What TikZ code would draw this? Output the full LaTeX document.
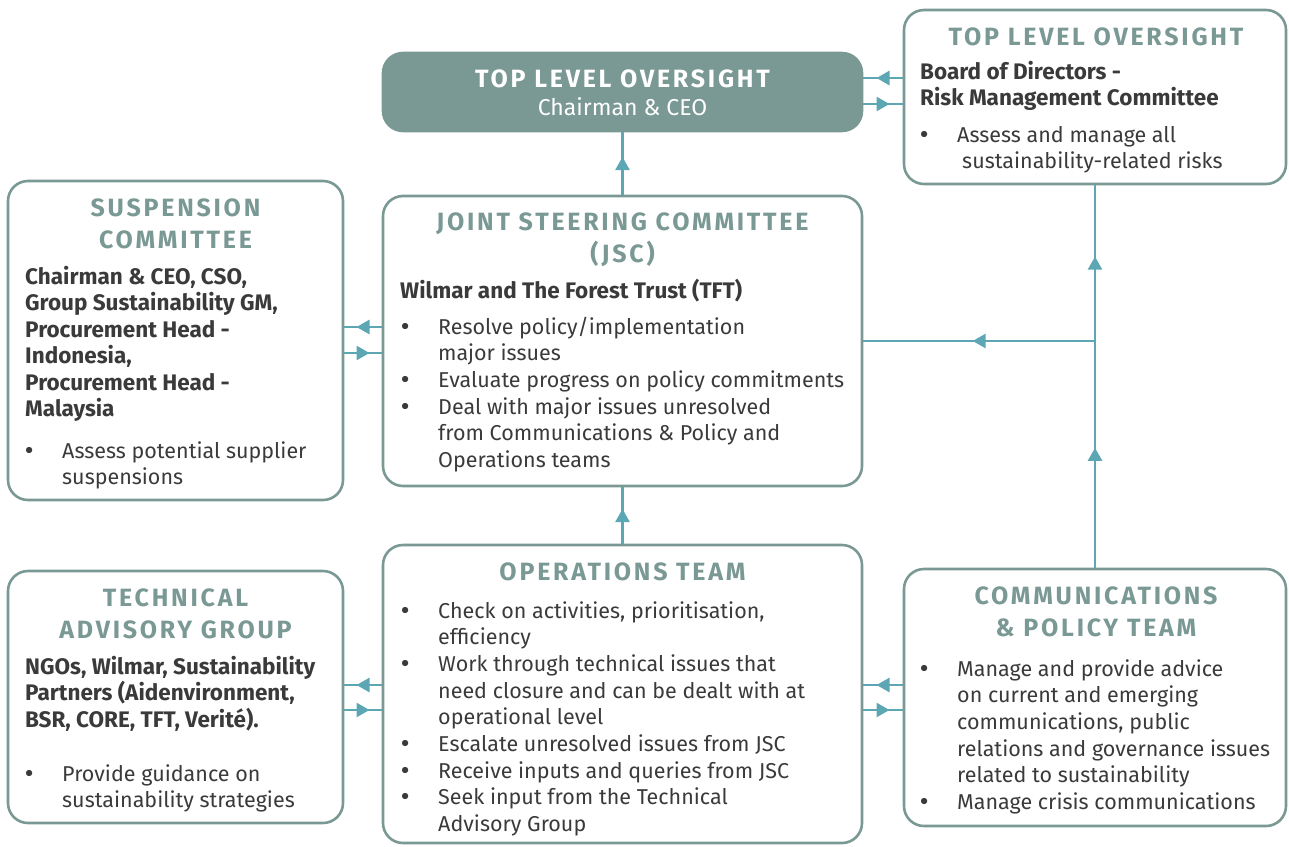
\documentclass[tikz,border=0pt]{standalone}
\usepackage{fontspec}
\setmainfont{Fira Sans}
\newfontfamily\headfont[LetterSpace=11.0]{Fira Sans}
\newfontfamily\dotfont{DejaVu Sans}
\usetikzlibrary{arrows.meta,decorations.markings}
\definecolor{boxc}{RGB}{122,153,148}
\definecolor{arrc}{RGB}{93,166,180}
\definecolor{txtc}{RGB}{58,58,58}
\newcommand\bodyfs{\fontsize{21.5}{26.7}\selectfont}
\newcommand\boldfs{\fontsize{22.5}{26.5}\selectfont\bfseries}
\newcommand\headfs{\fontsize{25}{31.5}\selectfont}
\newcommand\bul{\leavevmode\llap{\makebox[12pt]{\dotfont\textbullet}\hspace{27pt}}}
\tikzset{
  box/.style={draw=boxc, line width=2.6pt, rounded corners=20pt, inner sep=0pt},
  conn/.style={draw=arrc, line width=2.6pt, postaction={decorate},
    decoration={markings, mark=at position 0.5 with {\arrow[xshift=6.5pt]{Triangle[length=13pt,width=14pt]}}}},
  head/.style={inner sep=0pt, text=boxc, font=\headfont\bfseries\headfs, align=center},
  txt/.style={inner sep=0pt, text=txtc, anchor=base west},
}
\begin{document}
\begin{tikzpicture}[x=1pt,y=-1pt]
\useasboundingbox (0,0) rectangle (1289,846);
% boxes
\node[box, fill=boxc, minimum width=479pt, minimum height=78pt] (top) at (622.5,92) {};
\node[box, minimum width=382pt, minimum height=174pt] (rtop) at (1095,97) {};
\node[box, minimum width=335pt, minimum height=319pt] (susp) at (175.5,340.5) {};
\node[box, minimum width=479pt, minimum height=290pt] (jsc) at (622.5,341) {};
\node[box, minimum width=335pt, minimum height=252pt] (tag) at (175.5,697) {};
\node[box, minimum width=479pt, minimum height=298pt] (ops) at (622.5,694) {};
\node[box, minimum width=382pt, minimum height=257pt] (comms) at (1095,697.5) {};
% connectors
\draw[conn] (jsc.north) -- (top.south);
\draw[conn] (ops.north) -- (jsc.south);
\draw[conn] (rtop.west |- 0,78) -- (top.east |- 0,78);
\draw[conn] (top.east |- 0,104) -- (rtop.west |- 0,104);
\draw[conn] (jsc.west |- 0,327) -- (susp.east |- 0,327);
\draw[conn] (susp.east |- 0,353) -- (jsc.west |- 0,353);
\draw[conn] (ops.west |- 0,685) -- (tag.east |- 0,685);
\draw[conn] (tag.east |- 0,710) -- (ops.west |- 0,710);
\draw[conn] (comms.west |- 0,685) -- (ops.east |- 0,685);
\draw[conn] (ops.east |- 0,710) -- (comms.west |- 0,710);
\coordinate (junc) at (comms.north |- jsc.east);
\draw[conn] (comms.north) -- (junc);
\draw[conn] (junc) -- (rtop.south);
\draw[conn] (junc) -- (jsc.east);
% top centre
\node[head, text=white, anchor=base] (toph) at (622.5,87) {TOP LEVEL OVERSIGHT};
\node[inner sep=0pt, text=white, anchor=base, font=\fontsize{23}{24}\selectfont] (topt) at (622.5,115) {Chairman \& CEO};
% top right
\node[head, anchor=base] (rtoph) at (1096,45) {TOP LEVEL OVERSIGHT};
\node[txt] (rtopb) at (920,79) {\parbox[t]{360pt}{\boldfs Board of Directors -\\Risk Management Committee}};
\node[txt] (rtopl) at (957,142) {\parbox[t]{320pt}{\bodyfs\bul Assess and manage all\\\hspace*{5pt}sustainability-related risks}};
% suspension
\node[head, anchor=base] (susph) at (175.5,248) {SUSPENSION\\COMMITTEE};
\node[txt] (suspb) at (25,284) {\parbox[t]{320pt}{\boldfs Chairman \& CEO, CSO,\\Group Sustainability GM,\\Procurement Head -\\Indonesia,\\Procurement Head -\\Malaysia}};
\node[txt] (suspl) at (62,458) {\parbox[t]{280pt}{\bodyfs\bul Assess potential supplier\\suspensions}};
% JSC
\node[head, anchor=base] (jsch) at (622.5,262) {JOINT STEERING COMMITTEE\\(JSC)};
\node[txt] (jscb) at (400,298) {\parbox[t]{440pt}{\boldfs Wilmar and The Forest Trust (TFT)}};
\node[txt] (jscl) at (438,334) {\parbox[t]{420pt}{\bodyfs\bul Resolve policy/implementation\\major issues\\\bul Evaluate progress on policy commitments\\\bul Deal with major issues unresolved\\from Communications \& Policy and\\Operations teams}};
% TAG
\node[head, anchor=base] (tagh) at (175.5,638) {TECHNICAL\\ADVISORY GROUP};
\node[txt] (tagb) at (25,674) {\parbox[t]{320pt}{\boldfs NGOs, Wilmar, Sustainability\\Partners (Aidenvironment,\\BSR, CORE, TFT, Verité).}};
\node[txt] (tagl) at (62,781) {\parbox[t]{280pt}{\bodyfs\bul Provide guidance on\\sustainability strategies}};
% Operations
\node[head, anchor=base] (opsh) at (622.5,580) {OPERATIONS TEAM};
\node[txt] (opsl) at (438,618) {\parbox[t]{420pt}{\bodyfs\bul Check on activities, prioritisation,\\efficiency\\\bul Work through technical issues that\\need closure and can be dealt with at\\operational level\\\bul Escalate unresolved issues from JSC\\\bul Receive inputs and queries from JSC\\\bul Seek input from the Technical\\Advisory Group}};
% Comms
\node[head, anchor=base] (commsh) at (1096,636) {COMMUNICATIONS\\\& POLICY TEAM};
\node[txt] (commsl) at (957,676) {\parbox[t]{330pt}{\bodyfs\bul Manage and provide advice\\on current and emerging\\communications, public\\relations and governance issues\\related to sustainability\\\bul Manage crisis communications}};
\end{tikzpicture}
\end{document}
